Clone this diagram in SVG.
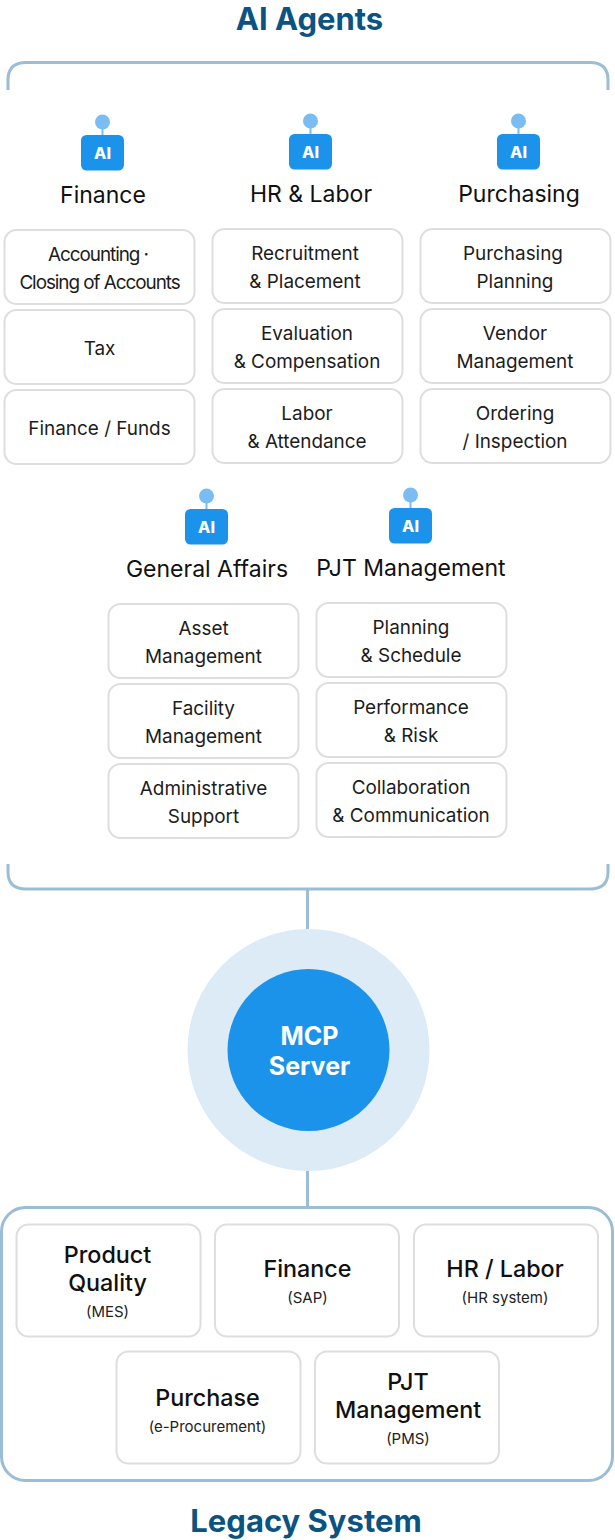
<svg xmlns="http://www.w3.org/2000/svg" width="615" height="1540" viewBox="0 0 615 1540">
<style>
text{font-family:Inter,"Noto Sans","Liberation Sans",sans-serif;text-anchor:middle}
.title{font-size:31px;font-weight:700;fill:#0B5381}
.head{font-size:23px;font-weight:400;fill:#111}
.item{font-size:18.900px;fill:#1c1c1c}
.tight{letter-spacing:-1.05px}
.box{fill:#fff;stroke:#DEDEDE;stroke-width:2}
.frame{fill:none;stroke:#9BBDD6;stroke-width:3}
.sys{font-size:23.300px;font-weight:500;fill:#111}
.sub{font-size:15px;fill:#222}
.ai{font-size:16px;font-weight:800;fill:#fff}
.mcp{font-size:25px;font-weight:700;fill:#fff}
.ant{stroke:#7ABDF2;stroke-width:2}
.dot{fill:#7ABDF2}
.chip{fill:#1C93EA}
</style>
<defs>
<g id="icon">
<line class="ant" x1="0" y1="-18" x2="0" y2="0"/>
<circle class="dot" cx="0" cy="-13" r="7.500"/>
<rect class="chip" x="-21.500" y="0" width="43" height="35.500" rx="5.500"/>
<text class="ai" x="0" y="23.500">AI</text>
</g>
</defs>
<text class="title" x="309.500" y="30">AI Agents</text>
<g id="connectors">
<path class="frame" d="M8 90V80Q8 62.500 26 62.500H590Q608 62.500 608 80V90"/>
<path class="frame" d="M8 864V872Q8 889 26 889H590Q608 889 608 872V864"/>
<line class="frame" x1="307.500" y1="889" x2="307.500" y2="932"/>
<line class="frame" x1="307.500" y1="1168" x2="307.500" y2="1208"/>
</g>
<g id="finance">
<use href="#icon" x="102.500" y="135"/>
<text class="head" x="103" y="203">Finance</text>
<rect class="box" x="4.500" y="230" width="190" height="74" rx="12"/>
<text class="item tight" x="98" y="261">Accounting ·</text>
<text class="item tight" x="99.500" y="289">Closing of Accounts</text>
<rect class="box" x="4.500" y="310" width="190" height="74" rx="12"/>
<text class="item" x="99.500" y="355">Tax</text>
<rect class="box" x="4.500" y="390" width="190" height="74" rx="12"/>
<text class="item" x="99.500" y="435">Finance / Funds</text>
</g>
<g id="hr-labor">
<use href="#icon" x="310.500" y="134"/>
<text class="head" x="311" y="202">HR &amp; Labor</text>
<rect class="box" x="212.500" y="229" width="190" height="74" rx="12"/>
<text class="item" x="305" y="260">Recruitment</text>
<text class="item" x="305" y="288">&amp; Placement</text>
<rect class="box" x="212.500" y="309" width="190" height="74" rx="12"/>
<text class="item" x="307" y="340">Evaluation</text>
<text class="item" x="307" y="368">&amp; Compensation</text>
<rect class="box" x="212.500" y="389" width="190" height="74" rx="12"/>
<text class="item" x="307" y="420">Labor</text>
<text class="item" x="307" y="448">&amp; Attendance</text>
</g>
<g id="purchasing">
<use href="#icon" x="518.500" y="134"/>
<text class="head" x="519" y="202">Purchasing</text>
<rect class="box" x="420.500" y="229" width="190" height="74" rx="12"/>
<text class="item" x="513" y="260">Purchasing</text>
<text class="item" x="515" y="288">Planning</text>
<rect class="box" x="420.500" y="309" width="190" height="74" rx="12"/>
<text class="item" x="515" y="340">Vendor</text>
<text class="item" x="515" y="368">Management</text>
<rect class="box" x="420.500" y="389" width="190" height="74" rx="12"/>
<text class="item" x="515" y="420">Ordering</text>
<text class="item" x="515" y="448">/ Inspection</text>
</g>
<g id="general-affairs">
<use href="#icon" x="206.500" y="509"/>
<text class="head" x="207" y="577">General Affairs</text>
<rect class="box" x="108.500" y="604" width="190" height="74" rx="12"/>
<text class="item" x="203.500" y="635">Asset</text>
<text class="item" x="203.500" y="663">Management</text>
<rect class="box" x="108.500" y="684" width="190" height="74" rx="12"/>
<text class="item" x="203.500" y="715">Facility</text>
<text class="item" x="203.500" y="743">Management</text>
<rect class="box" x="108.500" y="764" width="190" height="74" rx="12"/>
<text class="item" x="203.500" y="795">Administrative</text>
<text class="item" x="203.500" y="823">Support</text>
</g>
<g id="pjt-management">
<use href="#icon" x="410.500" y="508"/>
<text class="head" x="411" y="576">PJT Management</text>
<rect class="box" x="316.500" y="603" width="190" height="74" rx="12"/>
<text class="item" x="411" y="634">Planning</text>
<text class="item" x="411" y="662">&amp; Schedule</text>
<rect class="box" x="316.500" y="683" width="190" height="74" rx="12"/>
<text class="item" x="411" y="714">Performance</text>
<text class="item" x="411" y="742">&amp; Risk</text>
<rect class="box" x="316.500" y="763" width="190" height="74" rx="12"/>
<text class="item" x="411" y="794">Collaboration</text>
<text class="item" x="411" y="822">&amp; Communication</text>
</g>
<g id="mcp-server">
<circle cx="308.500" cy="1050" r="121" fill="#DCEBF6"/>
<circle cx="308.500" cy="1050" r="81" fill="#1C93EA"/>
<text class="mcp" x="309.500" y="1045">MCP</text>
<text class="mcp" x="309.500" y="1075">Server</text>
</g>
<g id="legacy-system">
<rect class="frame" x="1.500" y="1207.500" width="611" height="273" rx="24"/>
<text class="title" x="306" y="1532">Legacy System</text>
</g>
<g id="product-quality">
<rect class="box" x="16.500" y="1224.500" width="184" height="112" rx="12"/>
<text class="sys" x="107.500" y="1263">Product</text>
<text class="sys" x="107.500" y="1291">Quality</text>
<text class="sub" x="107.500" y="1317">(MES)</text>
</g>
<g id="finance-sap">
<rect class="box" x="215" y="1224.500" width="184" height="112" rx="12"/>
<text class="sys" x="307.500" y="1277">Finance</text>
<text class="sub" x="307.500" y="1303">(SAP)</text>
</g>
<g id="hr-system">
<rect class="box" x="414" y="1224.500" width="184" height="112" rx="12"/>
<text class="sys" x="505" y="1277">HR / Labor</text>
<text class="sub" x="505" y="1303">(HR system)</text>
</g>
<g id="purchase">
<rect class="box" x="116.500" y="1351.500" width="184" height="112" rx="12"/>
<text class="sys" x="207.500" y="1406">Purchase</text>
<text class="sub" x="207.500" y="1432">(e-Procurement)</text>
</g>
<g id="pjt-pms">
<rect class="box" x="315" y="1351.500" width="184" height="112" rx="12"/>
<text class="sys" x="408" y="1390">PJT</text>
<text class="sys" x="408" y="1418">Management</text>
<text class="sub" x="408" y="1444">(PMS)</text>
</g>
</svg>
